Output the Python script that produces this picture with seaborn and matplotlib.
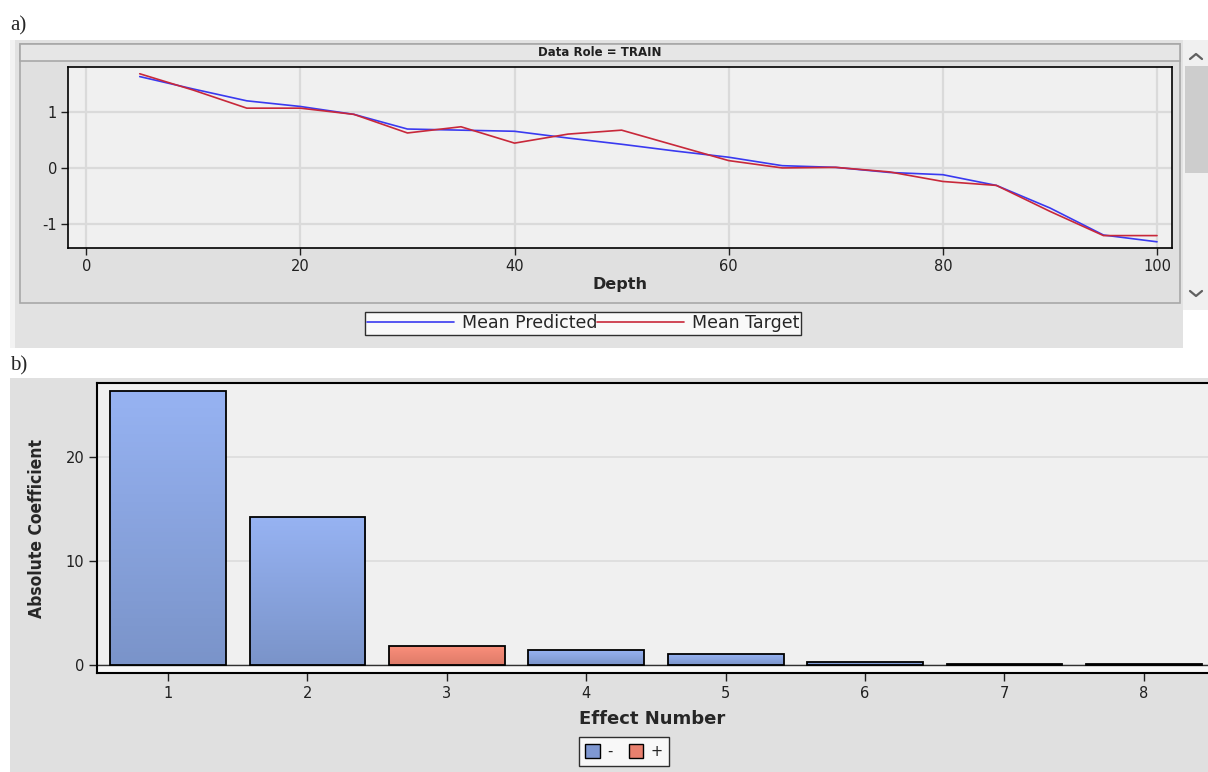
import numpy as np
import pandas as pd
import matplotlib
matplotlib.use("Agg")
import matplotlib.pyplot as plt
from matplotlib.patches import Rectangle, Patch
from matplotlib.lines import Line2D
import seaborn as sns

# ---- data: lift-style depth profile (panel a) ----
depth = [5, 10, 15, 20, 25, 30, 35, 40, 45, 50,
         55, 60, 65, 70, 75, 80, 85, 90, 95, 100]
mean_predicted = [1.62, 1.40, 1.19, 1.09, 0.95, 0.69, 0.67, 0.65, 0.53, 0.42,
                  0.30, 0.19, 0.04, 0.01, -0.08, -0.12, -0.31, -0.71, -1.19, -1.31]
mean_target = [1.67, 1.38, 1.06, 1.06, 0.95, 0.62, 0.73, 0.44, 0.60, 0.67,
               0.40, 0.13, 0.00, 0.01, -0.07, -0.24, -0.31, -0.77, -1.20, -1.20]
series_names = ["Mean Predicted", "Mean Target"]

# ---- data: effect magnitudes (panel b) ----
effect_number = ["1", "2", "3", "4", "5", "6", "7", "8"]
abs_coefficient = [26.3, 14.2, 1.8, 1.4, 1.05, 0.3, 0.1, 0.1]
coef_sign = ["-", "-", "+", "-", "-", "-", "-", "-"]

W, H = 1208, 772
sns.set_style("ticks")
plt.rcParams["font.family"] = ["DejaVu Sans"]
plt.rcParams["axes.edgecolor"] = "black"
plt.rcParams["axes.unicode_minus"] = False

fig = plt.figure(figsize=(W / 100, H / 100), dpi=100)
fig.patch.set_facecolor("white")


def px_box(x0, y0, x1, y1):
    """Figure-fraction [left, bottom, width, height] from pixel corners."""
    return [x0 / W, 1 - y1 / H, (x1 - x0) / W, (y1 - y0) / H]


def fig_rect(x0, y0, x1, y1, fc, ec="none", lw=0.0, z=0):
    l, b, w, h = px_box(x0, y0, x1, y1)
    fig.add_artist(Rectangle((l, b), w, h, transform=fig.transFigure,
                             facecolor=fc, edgecolor=ec, linewidth=lw, zorder=z))


def fig_line(xs, ys, color, lw=1.5):
    fig.add_artist(Line2D([x / W for x in xs], [1 - y / H for y in ys],
                          transform=fig.transFigure, color=color, lw=lw, zorder=3))


# ---- window chrome behind panel a ----
fig_rect(10, 40, 1183, 348, "#F3F3F3")
fig_rect(15, 40, 1183, 348, "#E2E2E2")
fig_rect(20, 44, 1180, 303, "#E0E0E0", ec="#A8A8A8", lw=1.2)
fig_rect(20, 44, 1180, 61, "#E6E6E6", ec="#A8A8A8", lw=1.2)
fig.text((20 + 1180) / 2 / W, 1 - 52.5 / H, "Data Role = TRAIN", ha="center",
         va="center", fontsize=8.5, fontweight="bold", color="#202020")
# scrollbar
fig_rect(1183, 40, 1208, 310, "#F0F0F0")
fig_rect(1185, 66, 1208, 173, "#CDCDCD")
fig_line([1190, 1196, 1202], [59, 54, 59], "#606060", 1.6)
fig_line([1190, 1196, 1202], [291, 296, 291], "#606060", 1.6)

# ---- window chrome behind panel b ----
fig_rect(10, 378, 1208, 772, "#E0E0E0")

fig.text(10 / W, 1 - 30 / H, "a)", fontsize=15, family="Liberation Serif",
         va="baseline", ha="left")
fig.text(10 / W, 1 - 370 / H, "b)", fontsize=15, family="Liberation Serif",
         va="baseline", ha="left")

# ================= panel a =================
ax1 = fig.add_axes(px_box(68, 67, 1172, 248))
ax1.set_facecolor("#F0F0F0")
df_a = pd.DataFrame({
    "Depth": depth * 2,
    "Value": mean_predicted + mean_target,
    "Series": [series_names[0]] * len(depth) + [series_names[1]] * len(depth),
})
sns.lineplot(data=df_a, x="Depth", y="Value", hue="Series",
             palette={"Mean Predicted": "#3A3AF0", "Mean Target": "#C8283A"},
             linewidth=1.2, ax=ax1, legend=False, zorder=3)
ax1.set_xlim(-1.7, 101.4)
ax1.set_ylim(-1.42, 1.79)
ax1.set_xticks([0, 20, 40, 60, 80, 100])
ax1.set_yticks([-1, 0, 1])
ax1.grid(True, color="#DADADA", linewidth=1.6, zorder=0)
ax1.set_axisbelow(True)
ax1.set_xlabel("Depth", fontsize=11.5, fontweight="bold", labelpad=2)
ax1.set_ylabel("")
ax1.tick_params(axis="both", labelsize=10.5, length=5, width=1, color="#202020",
                labelcolor="#202020", pad=3)
for s in ax1.spines.values():
    s.set_linewidth(1.2)

leg_a = fig.legend(
    handles=[Line2D([], [], color="#3A3AF0", lw=1.2),
             Line2D([], [], color="#C8283A", lw=1.2)],
    labels=series_names, loc="center left",
    bbox_to_anchor=(365 / W, 1 - 323.5 / H),
    ncol=2, fontsize=12.5, handlelength=5.0, handletextpad=0.45,
    columnspacing=0.0, frameon=True, fancybox=False, edgecolor="black",
    borderpad=0.12, borderaxespad=0)
leg_a.get_frame().set_linewidth(1.0)
leg_a.get_frame().set_facecolor("white")

# ================= panel b =================
ax2 = fig.add_axes(px_box(97, 383, 1208, 673))
ax2.set_facecolor("#F0F0F0")
df_b = pd.DataFrame({"Effect Number": effect_number,
                     "Absolute Coefficient": abs_coefficient,
                     "Sign": coef_sign})
sns.barplot(data=df_b, x="Effect Number", y="Absolute Coefficient", hue="Sign",
            palette={"-": "#8AA4DE", "+": "#EE8472"}, dodge=False, width=0.83,
            edgecolor="black", linewidth=1.3, ax=ax2, legend=False, zorder=3)

# vertical colour gradient inside each bar (bars ordered by position)
grad = np.linspace(0, 1, 64).reshape(-1, 1)
tops = {"-": np.array([0.59, 0.70, 0.95]), "+": np.array([0.98, 0.56, 0.48])}
bots = {"-": np.array([0.48, 0.58, 0.79]), "+": np.array([0.87, 0.48, 0.41])}
bars = sorted(ax2.patches, key=lambda p: p.get_x())
for bar, sign in zip(bars, coef_sign):
    x0, y0 = bar.get_x(), bar.get_y()
    w, h = bar.get_width(), bar.get_height()
    img = (bots[sign][None, None, :] * (1 - grad[..., None])
           + tops[sign][None, None, :] * grad[..., None])
    im = ax2.imshow(img, extent=(x0, x0 + w, y0, y0 + h), origin="lower",
                    aspect="auto", zorder=2.5)
    im.set_clip_path(bar)
    bar.set_facecolor("none")

ax2.set_xlim(-0.51, 7.46)
ax2.set_ylim(-0.77, 27.1)
ax2.axhspan(-0.77, 0, color="#F8F8F8", zorder=1)
ax2.axhline(0, color="#303030", lw=1.0, zorder=2)
ax2.set_yticks([0, 10, 20])
ax2.yaxis.grid(True, color="#DCDCDC", linewidth=1.2, zorder=0)
ax2.set_axisbelow(True)
ax2.tick_params(axis="both", labelsize=10.5, length=6, width=1, color="#202020",
                labelcolor="#202020", pad=3)
ax2.set_xlabel("Effect Number", fontsize=13, fontweight="bold", labelpad=7)
ax2.set_ylabel("Absolute Coefficient", fontsize=12.5, fontweight="bold",
               fontstretch="condensed", labelpad=14)
ax2.spines["right"].set_visible(False)
for k in ("left", "top", "bottom"):
    ax2.spines[k].set_linewidth(1.5)

leg_b = fig.legend(
    handles=[Patch(facecolor="#7F98D2", edgecolor="black", linewidth=1.0),
             Patch(facecolor="#E9806E", edgecolor="black", linewidth=1.0)],
    labels=["-", "+"], loc="center", bbox_to_anchor=(624 / W, 1 - 751.5 / H),
    ncol=2, fontsize=10.5, handlelength=1.0, handleheight=1.0, handletextpad=0.5,
    columnspacing=1.1, frameon=True, fancybox=False, edgecolor="black",
    borderpad=0.45, borderaxespad=0)
leg_b.get_frame().set_linewidth(1.0)
leg_b.get_frame().set_facecolor("white")

fig.savefig("out.png", dpi=100)
